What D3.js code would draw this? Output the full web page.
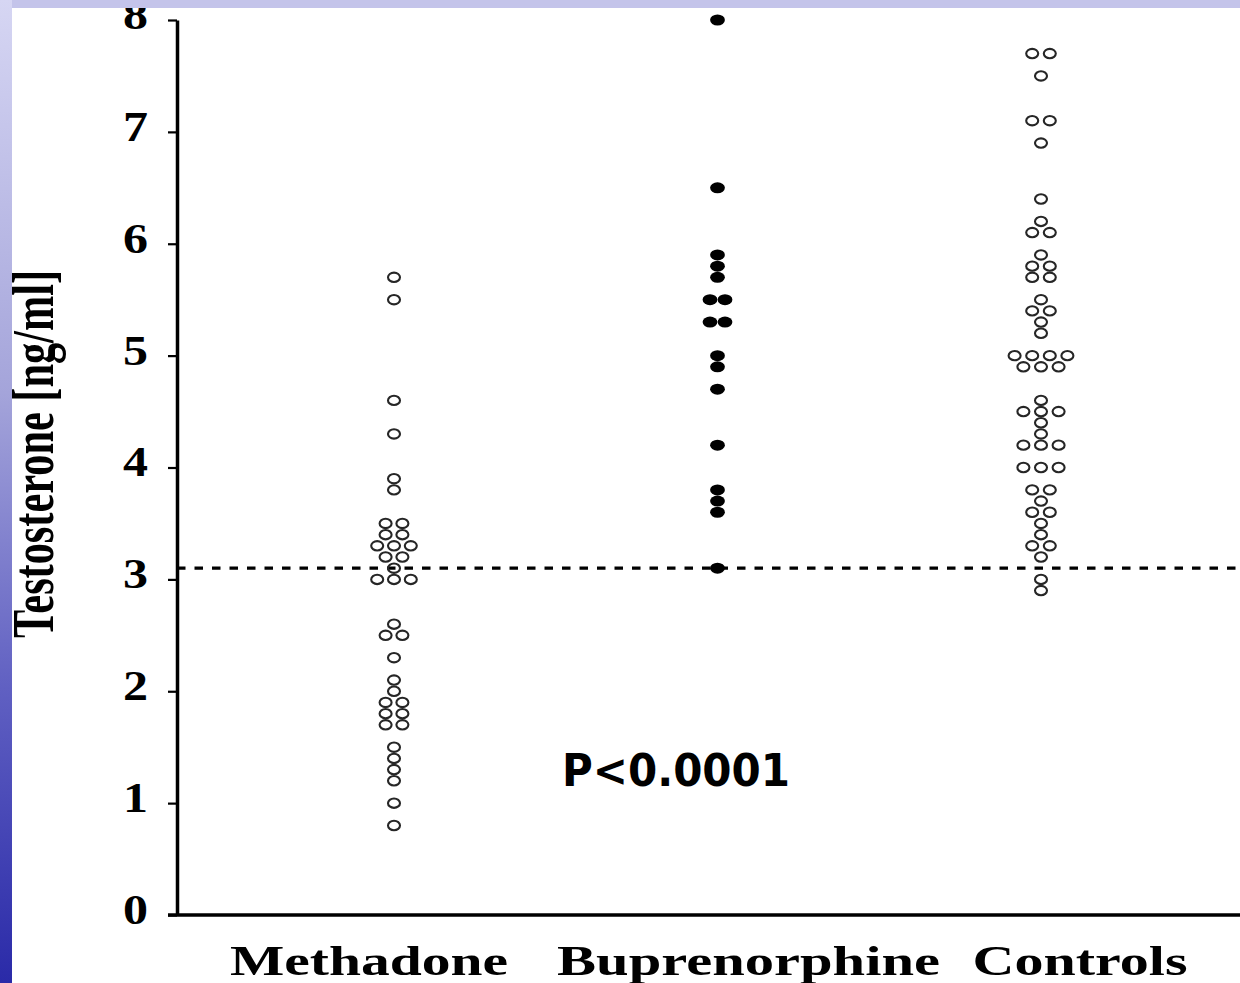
<!DOCTYPE html>
<html>
<head>
<meta charset="utf-8">
<script src="https://cdn.jsdelivr.net/npm/d3@7"></script>
<style>
  html, body { margin: 0; padding: 0; background: #fff; }
  svg { display: block; }
</style>
</head>
<body>
<div id="chart"></div>
<script>
// categories and values (ng/ml)
var categories = ["Methadone", "Buprenorphine", "Controls"];
var methadone = [5.7, 5.5, 4.6, 4.3, 3.9, 3.8, 3.5, 3.5, 3.4, 3.4, 3.3, 3.3, 3.3, 3.2, 3.2, 3.1,
  3.0, 3.0, 3.0, 2.6, 2.5, 2.5, 2.3, 2.1, 2.0, 1.9, 1.9, 1.8, 1.8, 1.7, 1.7, 1.5, 1.4, 1.3, 1.2, 1.0, 0.8];
var buprenorphine = [8.0, 6.5, 5.9, 5.8, 5.7, 5.5, 5.5, 5.3, 5.3, 5.0, 4.9, 4.7, 4.2, 3.8, 3.7, 3.6, 3.1];
var controls = [7.7, 7.7, 7.5, 7.1, 7.1, 6.9, 6.4, 6.2, 6.1, 6.1, 5.9, 5.8, 5.8, 5.7, 5.7, 5.5, 5.4, 5.4,
  5.3, 5.2, 5.0, 5.0, 5.0, 5.0, 4.9, 4.9, 4.9, 4.6, 4.5, 4.5, 4.5, 4.4, 4.3, 4.2, 4.2, 4.2, 4.0, 4.0, 4.0,
  3.8, 3.8, 3.7, 3.6, 3.6, 3.5, 3.4, 3.3, 3.3, 3.2, 3.0, 2.9];
var yTicks = [0, 1, 2, 3, 4, 5, 6, 7, 8];
var cutoff = 3.1;
var pText = "P<0.0001";
var yTitle = "Testosterone [ng/ml]";

var W = 1240, H = 983;
var svg = d3.select("#chart").append("svg").attr("width", W).attr("height", H);

var defs = svg.append("defs");
var grad = defs.append("linearGradient").attr("id", "strip")
  .attr("x1", 0).attr("y1", 0).attr("x2", 0).attr("y2", 1);
grad.append("stop").attr("offset", "0%").attr("stop-color", "#d6d6f3");
grad.append("stop").attr("offset", "40%").attr("stop-color", "#a4a4da");
grad.append("stop").attr("offset", "70%").attr("stop-color", "#6060c2");
grad.append("stop").attr("offset", "100%").attr("stop-color", "#2a2aa8");

svg.append("rect").attr("width", W).attr("height", H).attr("fill", "#fff");

var y = d3.scaleLinear().domain([0, 8]).range([915, 20]);
var x = d3.scalePoint().domain(categories).range([394, 1041]);
var labelX = d3.scalePoint().domain(categories).range([369, 1080]);

// y axis
var yAxis = svg.append("g").attr("transform", "translate(177,0)")
  .call(d3.axisLeft(y).tickValues(yTicks).tickFormat(d3.format("d")).tickSize(9).tickSizeOuter(0));
yAxis.select(".domain").attr("stroke", "#000").attr("stroke-width", 3.5);
yAxis.selectAll(".tick line").attr("stroke", "#000").attr("stroke-width", 2.2);
yAxis.selectAll(".tick text")
  .attr("x", -29).attr("dy", "0.2em")
  .attr("textLength", 25).attr("lengthAdjust", "spacingAndGlyphs")
  .attr("font-family", "'Liberation Serif', 'Times New Roman', serif")
  .attr("font-weight", "bold").attr("font-size", 42).attr("fill", "#000");

// x axis line
svg.append("line").attr("x1", 168).attr("x2", W).attr("y1", y(0)).attr("y2", y(0))
  .attr("stroke", "#000").attr("stroke-width", 3.5);

// cutoff dashed line
svg.append("line").attr("x1", 177).attr("x2", W).attr("y1", y(cutoff)).attr("y2", y(cutoff))
  .attr("stroke", "#000").attr("stroke-width", 3.2).attr("stroke-dasharray", "8.5,9");

// spread equal values sideways in a row
function layout(vals, cat, dx) {
  var groups = d3.group(vals, function(v) { return v; });
  var pts = [];
  groups.forEach(function(arr, v) {
    arr.forEach(function(d, i) {
      pts.push({ cx: x(cat) + (i - (arr.length - 1) / 2) * dx, cy: y(v) });
    });
  });
  return pts;
}

var series = [
  { cat: "Methadone", vals: methadone, filled: false, dx: 16.8 },
  { cat: "Buprenorphine", vals: buprenorphine, filled: true, dx: 15 },
  { cat: "Controls", vals: controls, filled: false, dx: 17.6 }
];

series.forEach(function(s) {
  var g = svg.append("g");
  g.selectAll("ellipse").data(layout(s.vals, s.cat, s.dx)).enter().append("ellipse")
    .attr("cx", function(d) { return d.cx; })
    .attr("cy", function(d) { return d.cy; })
    .attr("rx", s.filled ? 7.4 : 6.0)
    .attr("ry", s.filled ? 5.5 : 4.7)
    .attr("fill", s.filled ? "#000" : "none")
    .attr("stroke", s.filled ? "none" : "#262626")
    .attr("stroke-width", 2.1);
});

// category labels (wide, stretched look)
var labelLen = { "Methadone": 278, "Buprenorphine": 383, "Controls": 215 };
svg.selectAll(".cat").data(categories).enter().append("text")
  .attr("class", "cat")
  .attr("x", function(d) { return labelX(d) - labelLen[d] / 2 + (d === "Buprenorphine" ? 24 : 0); })
  .attr("y", 975)
  .attr("textLength", function(d) { return labelLen[d]; })
  .attr("lengthAdjust", "spacingAndGlyphs")
  .attr("font-family", "'Liberation Serif', 'Times New Roman', serif")
  .attr("font-weight", "bold").attr("font-size", 43)
  .text(function(d) { return d; });

// y title
svg.append("text")
  .attr("transform", "translate(53,454) rotate(-90) scale(1,1.4)")
  .attr("text-anchor", "middle")
  .attr("textLength", 368).attr("lengthAdjust", "spacingAndGlyphs")
  .attr("font-family", "'Liberation Serif', 'Times New Roman', serif")
  .attr("font-weight", "bold").attr("font-size", 42)
  .text(yTitle);

// p value
svg.append("text")
  .attr("x", 562).attr("y", 786)
  .attr("textLength", 228).attr("lengthAdjust", "spacingAndGlyphs")
  .attr("font-family", "'DejaVu Sans', Verdana, sans-serif")
  .attr("font-weight", "bold").attr("font-size", 45)
  .text(pText);

// slide background frame
svg.append("rect").attr("x", 0).attr("y", 0).attr("width", W).attr("height", 8).attr("fill", "#c4c4ea");
svg.append("rect").attr("x", 0).attr("y", 0).attr("width", 12).attr("height", H).attr("fill", "url(#strip)");
</script>
</body>
</html>
